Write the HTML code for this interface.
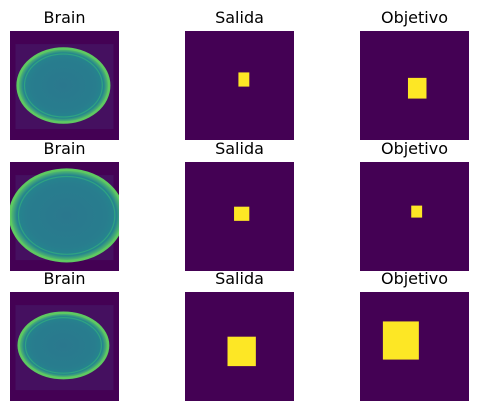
<!DOCTYPE html>
<html><head><meta charset="utf-8"><style>
body{margin:0;background:#fff;width:478px;height:411px;overflow:hidden}
svg text{font-family:"DejaVu Sans","Liberation Sans",sans-serif;font-size:16px;fill:#000}
</style></head><body>
<svg id="fig" width="478" height="411">
<defs>
<radialGradient id="brainfill" cx="50%" cy="50%" r="50%">
<stop offset="0%" stop-color="#2a788e"/><stop offset="70%" stop-color="#287d8e"/><stop offset="88%" stop-color="#25858e"/><stop offset="100%" stop-color="#5ec962"/></radialGradient>
</defs>
</svg>
<script>
const colX=[10,185,360], rowY=[31,162,292], S=109;
const titles=["Brain","Salida","Objetivo"];
// square masks [x0,y0,x1,y1] in image fraction (0..1)
const salida=[[0.49,0.38,0.59,0.51],[0.45,0.41,0.59,0.54],[0.39,0.41,0.65,0.68]];
const objetivo=[[0.44,0.43,0.61,0.62],[0.47,0.40,0.57,0.51],[0.21,0.27,0.54,0.62]];
// brain ellipses [cx,cy,rx,ry] in fraction
const brains=[[0.49,0.50,0.42,0.34],[0.52,0.49,0.52,0.42],[0.49,0.49,0.41,0.30]];
const svg=document.getElementById('fig');const NS="http://www.w3.org/2000/svg";
const defs=svg.querySelector('defs');
function mk(t,a,name,parent){const e=document.createElementNS(NS,t);for(const k in a)e.setAttribute(k,a[k]);


(parent||svg).appendChild(e);return e;}
for(let r=0;r<3;r++){for(let c=0;c<3;c++){
const x=colX[c],y=rowY[r];
const t=mk('text',{x:x+S/2,y:y-8,'text-anchor':'middle','font-size':'16'},'title-'+titles[c].toLowerCase()+'-'+(r+1));t.textContent=titles[c];
const cp=mk('clipPath',{id:'cp'+r+c},'clip-'+r+c,defs);
mk('rect',{x:x,y:y,width:S,height:S},'clip-rect-'+r+c,cp);
const g=mk('g',{'clip-path':'url(#cp'+r+c+')'},'panel-'+titles[c].toLowerCase()+'-'+(r+1));
mk('rect',{x:x,y:y,width:S,height:S,fill:'#440154'},'image-'+titles[c].toLowerCase()+'-'+(r+1),g);
if(c===0){const b=brains[r];
mk('rect',{x:x+S*0.05,y:y+S*0.12,width:S*0.9,height:S*0.78,fill:'#451060'},'brain-scan-bg-'+(r+1),g);
mk('ellipse',{cx:x+b[0]*S,cy:y+b[1]*S,rx:b[2]*S,ry:b[3]*S,fill:'url(#brainfill)',stroke:'#5ec962','stroke-width':2.5},'brain-'+(r+1),g);
mk('ellipse',{cx:x+b[0]*S,cy:y+b[1]*S,rx:b[2]*S*0.85,ry:b[3]*S*0.85,fill:'none',stroke:'#35b779','stroke-width':1.2,opacity:0.6},'brain-inner-'+(r+1),g);
}else{const m=(c===1?salida:objetivo)[r];
mk('rect',{x:x+m[0]*S,y:y+m[1]*S,width:(m[2]-m[0])*S,height:(m[3]-m[1])*S,fill:'#fde725'},(c===1?'salida':'objetivo')+'-mask-'+(r+1),g);}
}}
</script>
</body></html>
